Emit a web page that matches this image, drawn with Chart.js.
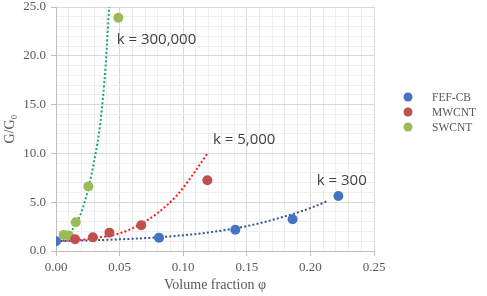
<!DOCTYPE html>
<html><head><meta charset="utf-8">
<script src="https://cdn.jsdelivr.net/npm/chart.js@4"></script>
<style>html,body{margin:0;padding:0;background:#fff}</style>
</head><body>
<canvas id="c" width="487" height="296"></canvas>
<script>
// ---- data ----
const seriesNames = ['FEF-CB', 'MWCNT', 'SWCNT'];
const seriesColors = ['#4472C4', '#C0504D', '#9BBB59'];
const trendColors = ['#2F5597', '#FF1A1A', '#12AA6A'];

const fefcbX = [0.0, 0.081, 0.141, 0.186, 0.222];
const fefcbY = [1.0, 1.37, 2.18, 3.25, 5.63];
const mwcntX = [0.015, 0.029, 0.042, 0.067, 0.119];
const mwcntY = [1.2, 1.4, 1.88, 2.63, 7.24];
const swcntX = [0.006, 0.010, 0.0155, 0.0254, 0.049];
const swcntY = [1.65, 1.6, 2.95, 6.62, 23.9];

// dotted model curves
const fefcbTrendX = [0.0, 0.04, 0.08, 0.12, 0.15, 0.18, 0.20, 0.214];
const fefcbTrendY = [1.0, 1.15, 1.4, 1.9, 2.55, 3.55, 4.4, 5.15];
const mwcntTrendX = [0.005, 0.02, 0.035, 0.05, 0.065, 0.08, 0.095, 0.108, 0.119];
const mwcntTrendY = [1.05, 1.15, 1.4, 1.8, 2.65, 3.9, 5.7, 7.9, 10.0];
const swcntTrendX = [0.005, 0.01, 0.015, 0.02, 0.025, 0.03, 0.035, 0.039, 0.0418];
const swcntTrendY = [1.4, 1.8, 2.6, 4.0, 6.2, 9.2, 13.3, 19.0, 25.0];

const annTexts = ['k = 300,000', 'k = 5,000', 'k = 300'];
const annX = [0.0477, 0.1234, 0.205];
const annY = [21.6, 11.4, 7.25];

const xTitle = 'Volume fraction φ';
const yTitle = 'G/G₀';

// ---- build ----
function pts(xs, ys) { return xs.map((x, i) => ({x: x, y: ys[i]})); }
function isMajor(v, step) { const r = v / step; return Math.abs(r - Math.round(r)) < 1e-6; }

const pointSets = [[fefcbX, fefcbY], [mwcntX, mwcntY], [swcntX, swcntY]];
const trendSets = [[fefcbTrendX, fefcbTrendY], [mwcntTrendX, mwcntTrendY], [swcntTrendX, swcntTrendY]];

const datasets = [];
pointSets.forEach((s, i) => datasets.push({
  label: seriesNames[i], data: pts(s[0], s[1]), showLine: false,
  pointRadius: 5, pointHoverRadius: 5, pointBorderWidth: 0,
  backgroundColor: seriesColors[i], borderColor: seriesColors[i], order: 0
}));
trendSets.forEach((s, i) => datasets.push({
  label: '', data: pts(s[0], s[1]), showLine: true, pointRadius: 0,
  borderColor: trendColors[i], borderWidth: 2, borderDash: [2, 2.2],
  cubicInterpolationMode: 'monotone', fill: false, order: 1
}));

const serif = '"Liberation Serif", "Times New Roman", serif';
const tickColor = '#595959';

const legendPlugin = {
  id: 'customLegend',
  afterDraw(chart) {
    const ctx = chart.ctx;
    ctx.save();
    ctx.font = '11.5px ' + serif;
    ctx.textBaseline = 'middle';
    ctx.textAlign = 'left';
    seriesNames.forEach((name, i) => {
      const y = 97 + i * 15;
      ctx.fillStyle = seriesColors[i];
      ctx.beginPath(); ctx.arc(408, y, 4.5, 0, Math.PI * 2); ctx.fill();
      ctx.fillStyle = tickColor;
      ctx.fillText(name, 432, y + 0.5);
    });
    ctx.restore();
  }
};

const annPlugin = {
  id: 'annotations',
  afterDatasetsDraw(chart) {
    const ctx = chart.ctx, xs = chart.scales.x, ys = chart.scales.y;
    ctx.save();
    ctx.font = '15px "Open Sans", sans-serif';
    ctx.fillStyle = '#404040';
    ctx.textBaseline = 'middle';
    ctx.textAlign = 'left';
    annTexts.forEach((t, i) => ctx.fillText(t, xs.getPixelForValue(annX[i]), ys.getPixelForValue(annY[i])));
    ctx.restore();
  }
};

new Chart(document.getElementById('c'), {
  type: 'scatter',
  data: { datasets: datasets },
  options: {
    responsive: false, animation: false,
    layout: { padding: { top: 7, right: 113, left: 0, bottom: 0 } },
    plugins: { legend: { display: false }, tooltip: { enabled: false } },
    scales: {
      x: {
        type: 'linear', min: 0, max: 0.25,
        afterFit: s => { s.height = 45; },
        ticks: {
          stepSize: 0.01, autoSkip: false, maxRotation: 0, padding: 4,
          color: tickColor, font: { family: serif, size: 13 },
          callback: v => isMajor(v, 0.05) ? v.toFixed(2) : ''
        },
        grid: {
          color: c => isMajor(c.tick.value, 0.05) ? '#D9D9D9' : '#EEEEEE',
          tickColor: c => isMajor(c.tick.value, 0.05) ? '#BFBFBF' : 'rgba(0,0,0,0)',
          tickLength: 5, drawTicks: true
        },
        border: { color: '#BFBFBF' },
        title: { display: true, text: xTitle, color: tickColor, font: { family: serif, size: 14 }, padding: { top: 0, bottom: 2 } }
      },
      y: {
        type: 'linear', min: 0, max: 25,
        afterFit: s => { s.width = 56; s.paddingTop = 0; s.paddingBottom = 0; },
        ticks: {
          stepSize: 1, autoSkip: false, padding: 5,
          color: tickColor, font: { family: serif, size: 13, lineHeight: 0.5 },
          callback: v => isMajor(v, 5) ? v.toFixed(1) : ''
        },
        grid: {
          color: c => isMajor(c.tick.value, 5) ? '#D9D9D9' : '#EEEEEE',
          tickColor: c => isMajor(c.tick.value, 5) ? '#BFBFBF' : 'rgba(0,0,0,0)',
          tickLength: 5, drawTicks: true
        },
        border: { color: '#BFBFBF' },
        title: { display: true, text: yTitle, color: tickColor, font: { family: serif, size: 14 }, padding: { top: 2, bottom: 0 } }
      }
    }
  },
  plugins: [annPlugin, legendPlugin]
});
</script>
</body></html>
